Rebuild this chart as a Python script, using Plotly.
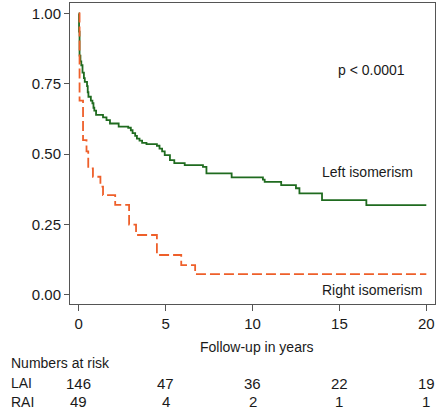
import plotly.graph_objects as go

# Kaplan-Meier step data (time in years, survival)
lai_t = [0, 0.02, 0.05, 0.1, 0.15, 0.22, 0.3, 0.35, 0.48, 0.52, 0.56, 0.7, 0.79, 0.85, 0.9, 1.0,
         1.4, 1.6, 1.8, 2.3, 2.85, 3.0, 3.1, 3.25, 3.35, 3.5, 3.65, 3.9, 4.5, 4.65, 4.8, 4.95,
         5.25, 5.5, 6.1, 7.15, 7.35, 8.8, 10.6, 10.7, 11.65, 12.5, 12.7, 14.0, 16.55, 20.0]
lai_s = [1.0, 0.935, 0.85, 0.83, 0.816, 0.79, 0.77, 0.757, 0.742, 0.72, 0.704, 0.69, 0.681, 0.665,
         0.655, 0.64, 0.631, 0.621, 0.609, 0.598, 0.594, 0.585, 0.575, 0.565, 0.555, 0.548, 0.54,
         0.536, 0.53, 0.52, 0.51, 0.497, 0.479, 0.468, 0.461, 0.455, 0.432, 0.418, 0.41, 0.402,
         0.39, 0.379, 0.361, 0.337, 0.319, 0.319]

rai_t = [0, 0.05, 0.25, 0.45, 0.55, 0.82, 1.25, 1.4, 2.1, 2.9, 3.3, 4.5, 5.9, 6.7, 20.0]
rai_s = [1.0, 0.69, 0.55, 0.51, 0.45, 0.42, 0.385, 0.355, 0.32, 0.25, 0.213, 0.142, 0.106, 0.074, 0.074]

x_ticks = [0, 5, 10, 15, 20]
y_ticks = [0, 0.25, 0.5, 0.75, 1.0]
y_tick_labels = ["0.00", "0.25", "0.50", "0.75", "1.00"]

risk_times = [0, 5, 10, 15, 20]
risk_lai = [146, 47, 36, 22, 19]
risk_rai = [49, 4, 2, 1, 1]

GREEN = "#1f6b1f"
ORANGE = "#ee5f2a"
FONT = "Liberation Sans, Arial, sans-serif"
TXT = "#1a1a1a"

fig = go.Figure()
fig.add_trace(go.Scatter(x=lai_t, y=lai_s, mode="lines", line=dict(color=GREEN, width=1.8, shape="hv"),
                         showlegend=False, hoverinfo="skip"))
fig.add_trace(go.Scatter(x=rai_t, y=rai_s, mode="lines",
                         line=dict(color=ORANGE, width=1.8, shape="hv", dash="10px,4px"),
                         showlegend=False, hoverinfo="skip"))

ann = []
ann.append(dict(x=14.83, y=0.799, xref="x", yref="y", text="p < 0.0001", showarrow=False,
                xanchor="left", yanchor="middle", font=dict(size=14, color=TXT, family=FONT)))
ann.append(dict(x=13.87, y=0.438, xref="x", yref="y", text="Left isomerism", showarrow=False,
                xanchor="left", yanchor="middle", font=dict(size=14, color=TXT, family=FONT)))
ann.append(dict(x=13.87, y=0.018, xref="x", yref="y", text="Right isomerism", showarrow=False,
                xanchor="left", yanchor="middle", font=dict(size=14, color=TXT, family=FONT)))
ann.append(dict(x=10.25, y=-0.142, xref="x", yref="paper", text="Follow-up in years", showarrow=False,
                xanchor="center", yanchor="middle", font=dict(size=14, color=TXT, family=FONT)))
ann.append(dict(x=-0.166, y=-0.196, xref="paper", yref="paper", text="Numbers at risk", showarrow=False,
                xanchor="left", yanchor="middle", font=dict(size=14, color=TXT, family=FONT)))
ann.append(dict(x=-0.166, y=-0.2635, xref="paper", yref="paper", text="LAI", showarrow=False,
                xanchor="left", yanchor="middle", font=dict(size=14, color=TXT, family=FONT)))
ann.append(dict(x=-0.166, y=-0.3246, xref="paper", yref="paper", text="RAI", showarrow=False,
                xanchor="left", yanchor="middle", font=dict(size=14, color=TXT, family=FONT)))
for t, a, b in zip(risk_times, risk_lai, risk_rai):
    ann.append(dict(x=t, y=-0.2635, xref="x", yref="paper", text=str(a), showarrow=False,
                    xanchor="center", yanchor="middle", font=dict(size=15, color=TXT, family=FONT)))
    ann.append(dict(x=t, y=-0.3246, xref="x", yref="paper", text=str(b), showarrow=False,
                    xanchor="center", yanchor="middle", font=dict(size=15, color=TXT, family=FONT)))

fig.update_layout(
    width=440, height=414,
    margin=dict(l=70, r=5, t=3, b=110),
    paper_bgcolor="white", plot_bgcolor="white",
    annotations=ann,
    xaxis=dict(range=[-0.5, 20.5], tickvals=x_ticks, ticks="outside", ticklen=6, tickcolor="#555",
               showline=True, linecolor="#555", linewidth=1, mirror=True, showgrid=False, zeroline=False,
               tickfont=dict(size=15, color=TXT, family=FONT)),
    yaxis=dict(range=[-0.032, 1.037], tickvals=y_ticks, ticktext=y_tick_labels, ticks="outside",
               ticklen=5, tickcolor="#555", showline=True, linecolor="#555", linewidth=1, mirror=True,
               showgrid=False, zeroline=False, tickfont=dict(size=15, color=TXT, family=FONT)),
)

fig.write_html("out.html", config={"displayModeBar": False},
               post_script="document.body.style.margin='0';document.body.style.overflow='hidden';")
